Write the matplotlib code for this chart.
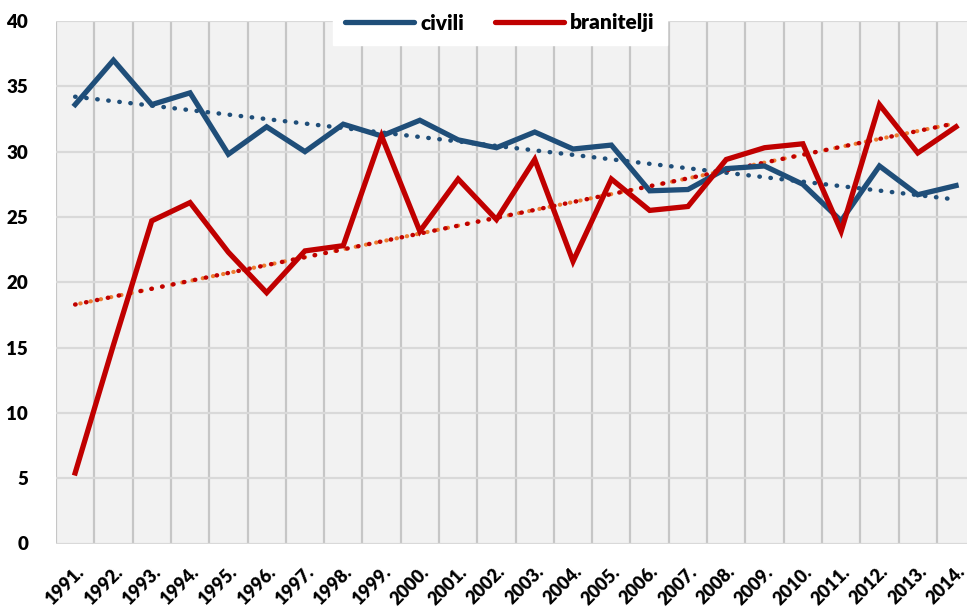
import matplotlib
matplotlib.use("Agg")
import matplotlib.pyplot as plt
import numpy as np

years = ["1991.", "1992.", "1993.", "1994.", "1995.", "1996.", "1997.", "1998.",
         "1999.", "2000.", "2001.", "2002.", "2003.", "2004.", "2005.", "2006.",
         "2007.", "2008.", "2009.", "2010.", "2011.", "2012.", "2013.", "2014."]
civili = [33.6, 37.0, 33.6, 34.5, 29.8, 31.9, 30.0, 32.1, 31.2, 32.4, 30.9, 30.3,
          31.5, 30.2, 30.5, 27.0, 27.1, 28.7, 28.9, 27.5, 24.7, 28.9, 26.7, 27.4]
branitelji = [5.4, 15.2, 24.7, 26.1, 22.3, 19.2, 22.4, 22.8, 31.2, 23.9, 27.9, 24.8,
              29.4, 21.6, 27.9, 25.5, 25.8, 29.4, 30.3, 30.6, 23.9, 33.6, 29.9, 31.9]
yticks = [0, 5, 10, 15, 20, 25, 30, 35, 40]

BLUE = "#1F4E79"
RED = "#C00000"
ORANGE = "#ED7D31"
FONT = ["Lato", "DejaVu Sans"]

plt.rcParams["font.family"] = FONT

fig = plt.figure(figsize=(9.67, 6.10), dpi=100)
W, H = 967, 610
left, right, top, bottom = 56, 967, 21, 543.5
ax = fig.add_axes([left / W, 1 - bottom / H, (right - left) / W, (bottom - top) / H])
ax.set_facecolor("#F2F2F2")

x = np.arange(len(years))
step = 38.3
ax.set_xlim(-0.5, -0.5 + (right - left) / step)
ax.set_ylim(0, 40)

for xv in np.arange(-0.5, len(years) + 0.5, 1):
    ax.axvline(xv, color="#C6C6C6", lw=1.6, zorder=1)
for yv in yticks:
    ax.axhline(yv, color="#D9D9D9", lw=1.6, zorder=1)

# trend lines
cb = np.polyfit(x, civili, 1)
cr = np.polyfit(x, branitelji, 1)
ax.plot(x, np.polyval(cb, x), color=BLUE, lw=3.2, ls=(0, (0.1, 2.4)),
        dash_capstyle="round", zorder=3)
ax.plot(x, np.polyval(cr, x), color=ORANGE, lw=3.0, ls=(1.25, (0.1, 2.4)),
        dash_capstyle="round", zorder=3)
ax.plot(x, np.polyval(cr, x), color=RED, lw=3.2, ls=(0, (0.1, 2.4)),
        dash_capstyle="round", zorder=3)

l1, = ax.plot(x, civili, color=BLUE, lw=3.8, solid_joinstyle="miter", label="civili", zorder=4)
l2, = ax.plot(x, branitelji, color=RED, lw=3.8, solid_joinstyle="miter", label="branitelji", zorder=4)

ax.set_yticks(yticks)
ax.set_yticklabels([str(v) for v in yticks], fontsize=13.5, fontweight="heavy")
ax.set_xticks(x)
ax.set_xticklabels(years, fontsize=13, fontweight="heavy", rotation=45,
                   ha="right", va="top", rotation_mode="anchor")
ax.tick_params(axis="both", length=0)
ax.tick_params(axis="y", pad=20)
ax.tick_params(axis="x", pad=14)
for s in ax.spines.values():
    s.set_visible(False)

leg = fig.legend(handles=[l1, l2], loc="center", ncol=2,
                 bbox_to_anchor=(500 / W, 1 - 23 / H), frameon=True,
                 fancybox=False, edgecolor="white", facecolor="white", framealpha=1,
                 prop={"family": FONT, "weight": "heavy", "size": 15},
                 handlelength=3.3, columnspacing=1.5, handletextpad=0.3,
                 borderpad=0.6)
for h in leg.legend_handles:
    h.set_solid_capstyle("round")

fig.savefig("out.png", dpi=100)
